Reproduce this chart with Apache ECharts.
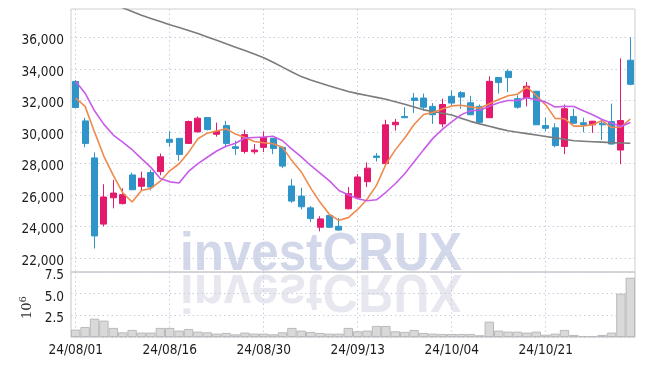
<!DOCTYPE html>
<html>
<head>
<meta charset="utf-8">
<script src="https://cdn.jsdelivr.net/npm/echarts@6/dist/echarts.min.js"></script>
<style>
html,body{margin:0;padding:0;background:#fff;}
#chart{width:645px;height:366px;}
</style>
</head>
<body>
<div id="chart"></div>
<script>
const dates = [
'24/08/01','24/08/02','24/08/05','24/08/06','24/08/07','24/08/08','24/08/09','24/08/12','24/08/13','24/08/14',
'24/08/16','24/08/19','24/08/20','24/08/21','24/08/22','24/08/23','24/08/26','24/08/27','24/08/28','24/08/29',
'24/08/30','24/09/02','24/09/03','24/09/04','24/09/05','24/09/06','24/09/09','24/09/10','24/09/11','24/09/12',
'24/09/13','24/09/19','24/09/20','24/09/23','24/09/24','24/09/25','24/09/26','24/09/27','24/09/30','24/10/02',
'24/10/04','24/10/07','24/10/08','24/10/10','24/10/11','24/10/14','24/10/15','24/10/16','24/10/17','24/10/18',
'24/10/21','24/10/22','24/10/23','24/10/24','24/10/25','24/10/28','24/10/29','24/10/30','24/10/31','24/11/01'];

const openP = [33200,30700,28350,24150,25820,25450,27270,26550,27420,27480,
29530,29590,29270,30000,30910,29850,30400,29060,28760,28740,
29020,29590,29020,26570,25930,25180,23950,24700,24010,25120,
25820,26840,28470,27990,30450,30980,32150,32150,31620,30510,
32260,32490,31850,31620,30900,33450,33850,32110,32170,32580,
30400,30260,29080,30980,30580,30450,30550,30660,28850,34550];

const closeP = [31550,29270,23400,25870,26120,26020,26330,27060,26500,28420,
29340,28570,30660,30870,30150,30040,29270,28950,29830,28850,
29650,28950,27830,25610,25250,24500,24480,23950,23770,26080,
27140,27700,28380,30450,30610,30900,32000,31570,31090,31740,
31830,32210,31090,30610,33210,33130,33450,31570,32900,30450,
30230,29130,31470,30550,30470,30680,30450,29230,30720,33020];

const lowP = [31550,29020,22600,24010,25150,25400,26300,26300,26290,27250,
29060,28170,29250,29980,30100,29700,29060,28530,28630,28590,
28720,28590,27700,25500,25080,24290,23690,23900,23740,25080,
25800,26500,28120,27980,30080,30880,31210,31360,30510,30290,
31620,31470,31060,30510,30880,32430,32530,31470,31620,30440,
30040,29020,28590,30530,29970,29940,29490,29200,27950,32960];

const highP = [33300,30900,28700,26680,26950,26420,27420,27480,27590,28630,
30040,29600,30720,30980,30920,30590,30700,29440,30130,29230,
30020,29620,29050,27000,26460,25290,24650,24720,24540,26500,
27320,28060,28660,30770,30830,31570,32470,32430,31830,32110,
32640,32590,32280,31740,33530,33470,33960,32320,33170,32600,
30900,30550,31740,31470,30900,30700,30770,31790,34670,36000];

const ma5 = [32150,31620,30000,28450,27240,26140,25550,26280,26410,26870,
27530,27980,28700,29570,29920,30060,30200,29860,29650,29390,
29310,29250,29020,28180,27460,26430,25530,24760,24390,24560,
25080,25730,26610,27950,28860,29610,30470,31110,31230,31460,
31650,31690,31590,31500,31790,32050,32300,32390,32850,32300,
31720,30860,30840,30370,30370,30460,30720,30280,30310,30820];

const ma10 = [33210,32460,31340,30480,29800,29350,28870,28300,27750,27050,
26830,26760,27490,27990,28390,28790,29090,29280,29610,29650,
29680,29720,29440,28910,28420,27870,27390,26890,26280,26010,
25760,25630,25690,26170,26710,27350,28100,28860,29590,30160,
30630,31080,31350,31370,31630,31850,31990,31990,32170,32050,
31890,31580,31620,31610,31340,31090,30790,30560,30340,30600];

const ma60 = [39100,38860,38610,38370,38120,37880,37640,37400,37200,37000,
36800,36620,36440,36240,36030,35810,35590,35380,35170,34950,
34710,34420,34110,33800,33510,33290,33100,32920,32740,32570,
32430,32310,32190,32070,31920,31760,31580,31400,31300,31190,
31070,30870,30670,30510,30360,30210,30070,29980,29890,29800,
29710,29620,29530,29440,29410,29380,29350,29320,29300,29280];

const volume = [0.85,1.16,2.12,1.89,1.05,0.54,0.82,0.51,0.51,1.05,
1.05,0.74,0.93,0.62,0.54,0.39,0.47,0.31,0.51,0.39,
0.39,0.31,0.54,1.05,0.74,0.59,0.47,0.39,0.39,1.05,
0.66,0.74,1.28,1.28,0.66,0.59,0.82,0.47,0.39,0.35,
0.35,0.35,0.35,0.20,1.77,0.74,0.62,0.62,0.51,0.62,
0.27,0.39,0.82,0.24,0.12,0.12,0.24,0.51,5.00,6.84];

const priceTicks = [22000,24000,26000,28000,30000,32000,34000,36000];

const FONT = "'DejaVu Sans Condensed','Liberation Sans Narrow',sans-serif";
const UP = '#e3196b', DOWN = '#2f95c8';
const gridLine = {show:true, lineStyle:{color:'#c8cce0', type:[1.5,3], width:1}};
const labelStyle = {fontFamily:FONT, fontSize:13.5, color:'#1c1c1c'};
const shiftRich = {p:{fontFamily:FONT, fontSize:13.5, color:'#1c1c1c', padding:[7,0,0,0]}};

const candleData = dates.map((d,i)=>[openP[i], closeP[i], lowP[i], highP[i]]);

const chart = echarts.init(document.getElementById('chart'), null, {renderer:'canvas'});
chart.setOption({
  animation:false,
  backgroundColor:'#fff',
  grid:[
    {left:71, right:10, top:9, height:263, show:true, borderColor:'#cfcfcf', borderWidth:1, backgroundColor:'transparent'},
    {left:71, right:10, top:272, height:65, show:true, borderColor:'#c4c4c4', borderWidth:1, backgroundColor:'transparent'}
  ],
  graphic:[
    {type:'text', x:180, y:255.5, z:-10, scaleX:0.93, silent:true,
     style:{text:'investCRUX', font:'bold 53px "Liberation Sans"', fill:'#d2d8e9', align:'left', verticalAlign:'middle'}},
    {type:'text', x:180, y:289.5, z:-10, scaleX:0.93, scaleY:-1, silent:true,
     style:{text:'investCRUX', font:'bold 53px "Liberation Sans"', fill:'#e7e7ef', align:'left', verticalAlign:'middle'}}
  ],
  xAxis:[
    {type:'category', gridIndex:0, data:dates, boundaryGap:true,
     axisLine:{show:false}, axisTick:{show:false, interval:9, alignWithLabel:true},
     axisLabel:{show:false, interval:9},
     splitLine:Object.assign({interval:9, alignWithLabel:true}, gridLine)},
    {type:'category', gridIndex:1, data:dates, boundaryGap:true,
     axisLine:{show:false}, axisTick:{show:false, interval:9, alignWithLabel:true},
     axisLabel:Object.assign({show:true, interval:9, margin:6}, labelStyle),
     splitLine:Object.assign({interval:9, alignWithLabel:true}, gridLine)}
  ],
  yAxis:[
    {type:'value', gridIndex:0, min:21110, max:37800, scale:true,
     axisLine:{show:false},
     axisTick:{show:false, customValues:priceTicks},
     axisLabel:Object.assign({show:true, customValues:priceTicks, margin:7, rich:shiftRich,
       formatter:v=>'{p|' + v.toLocaleString('en-US') + '}'}, labelStyle),
     splitLine:Object.assign({customValues:priceTicks}, gridLine)},
    {type:'value', gridIndex:1, min:0, max:7.5, interval:2.5,
     axisLine:{show:false}, axisTick:{show:false},
     axisLabel:Object.assign({show:true, showMinLabel:false, margin:7, rich:shiftRich,
       formatter:v=>'{p|' + v.toFixed(1) + '}'}, labelStyle),
     splitLine:gridLine,
     name:'{a|10}{b|6}', nameLocation:'middle', nameRotate:90, nameGap:32,
     nameTextStyle:{color:'#333', fontFamily:'DejaVu Serif', padding:[0,6,0,0],
       rich:{a:{fontSize:13, fontFamily:'DejaVu Serif', color:'#333'},
             b:{fontSize:10, fontFamily:'DejaVu Serif', color:'#333', padding:[0,0,7,0]}}}}
  ],
  series:[
    {type:'candlestick', xAxisIndex:0, yAxisIndex:0, data:candleData, barWidth:6.6, z:2,
     itemStyle:{color:UP, color0:DOWN, borderColor:UP, borderColor0:DOWN, borderWidth:1}},
    {type:'line', name:'MA60', xAxisIndex:0, yAxisIndex:0, data:ma60, showSymbol:false, symbol:'none', clip:true, z:3,
     lineStyle:{color:'#7b7b7b', width:1.6}},
    {type:'line', name:'MA5', xAxisIndex:0, yAxisIndex:0, data:ma5, showSymbol:false, symbol:'none', clip:true, z:4,
     lineStyle:{color:'#ef8a4d', width:1.6}},
    {type:'line', name:'MA10', xAxisIndex:0, yAxisIndex:0, data:ma10, showSymbol:false, symbol:'none', clip:true, z:4,
     lineStyle:{color:'#c85ce9', width:1.6}},
    {type:'bar', xAxisIndex:1, yAxisIndex:1, data:volume, barCategoryGap:'0%', barWidth:'100%',
     itemStyle:{color:'#d9d9d9', borderColor:'#b9b9b9', borderWidth:1}}
  ]
});
</script>
</body>
</html>
